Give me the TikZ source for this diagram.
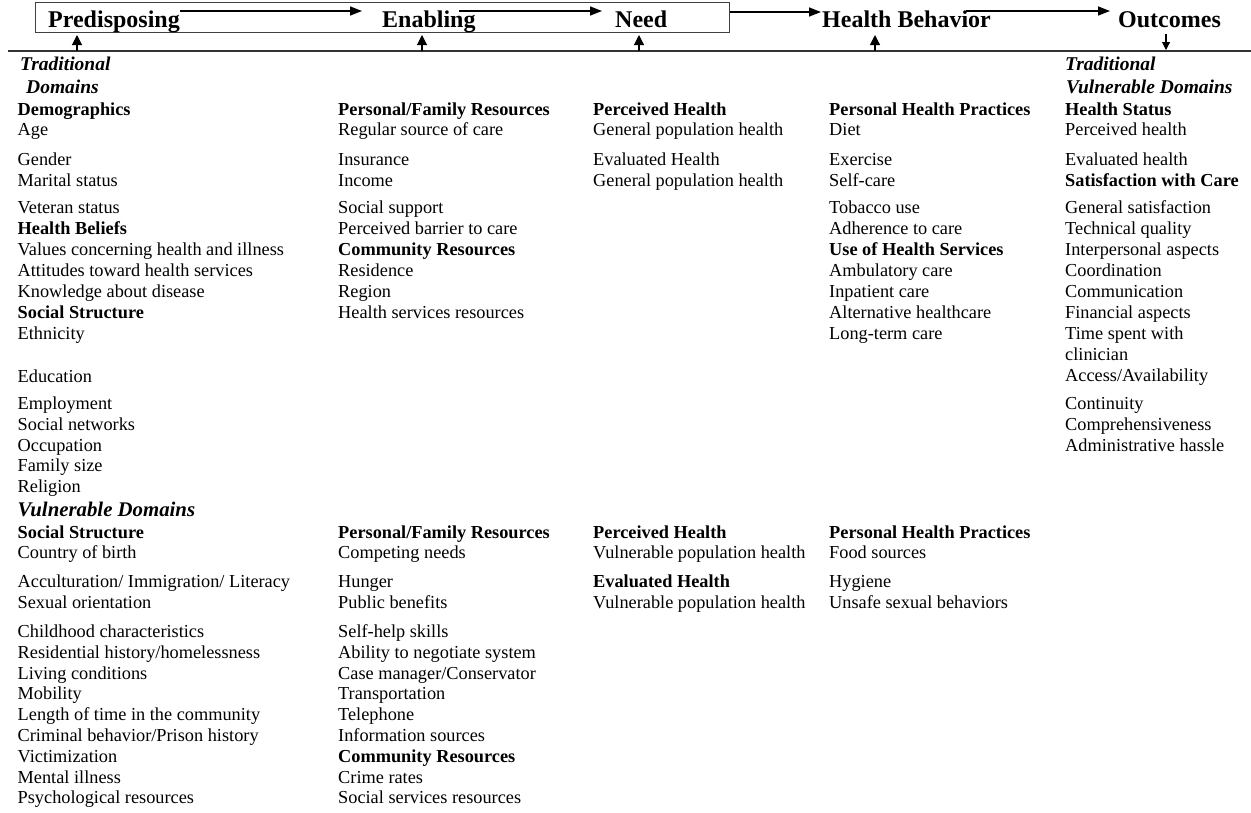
\documentclass[tikz,border=0pt]{standalone}
\usepackage{fontspec}
\setmainfont{Liberation Serif}
\usetikzlibrary{arrows.meta}
\tikzset{
  txt/.style={anchor=base west, inner sep=0pt, font=\fontsize{18.3}{21}\selectfont},
  hdr/.style={anchor=base west, inner sep=0pt, font=\fontsize{24}{26}\selectfont\bfseries},
  dom/.style={anchor=base west, inner sep=0pt, font=\fontsize{19.5}{22}\selectfont\bfseries\itshape},
  domb/.style={anchor=base west, inner sep=0pt, font=\fontsize{20.8}{23}\selectfont\bfseries\itshape},
  harr/.style={-{Triangle[length=12pt,width=9pt]}, line width=1.5pt},
  varr/.style={-{Triangle[length=10pt,width=10pt]}, line width=1.1pt},
  darr/.style={-{Triangle[length=8pt,width=8pt]}, line width=1.1pt},
  rule/.style={line width=1.3pt, black!80},
  framebox/.style={draw=black!75, line width=1pt, inner sep=0pt, anchor=north west}
}
\begin{document}
\begin{tikzpicture}[x=1pt,y=-1pt]
\useasboundingbox (0,0) rectangle (1251,812);
% header box and rule
\node[framebox, minimum width=694pt, minimum height=30pt] (box) at (35,2) {};
\coordinate (rw) at (8,51);
\coordinate (re) at (1251,51);
\draw[rule] (rw) -- (re);
% header labels
\node[hdr] (pre) at (48,27) {Predisposing};
\node[hdr] (ena) at (382,27) {Enabling};
\node[hdr] (need) at (615,27) {Need};
\node[hdr] (hb) at (822,27) {Health Behavior};
\node[hdr] (out) at (1118,27) {Outcomes};
% horizontal arrows
\draw[harr] ([yshift=16pt]pre.base east) -- ([xshift=-20pt,yshift=16pt]ena.base west);
\draw[harr] ([xshift=-17pt,yshift=16pt]ena.base east) -- ([xshift=-13pt,yshift=16pt]need.base west);
\draw[harr] ([yshift=-10pt]box.north east) -- ([xshift=-1pt,yshift=15pt]hb.base west);
\draw[harr] ([xshift=-25pt,yshift=16pt]hb.base east) -- ([xshift=-8pt,yshift=16pt]out.base west);
% vertical arrows
\coordinate (u1a) at (77,51);   \coordinate (u1b) at (77,35);
\coordinate (u2a) at (422,51);  \coordinate (u2b) at (422,35);
\coordinate (u3a) at (639,51);  \coordinate (u3b) at (639,35);
\coordinate (u4a) at (875,51);  \coordinate (u4b) at (875,35);
\coordinate (d5a) at (1166,34); \coordinate (d5b) at (1166,50);
\draw[varr] (u1a) -- (u1b);
\draw[varr] (u2a) -- (u2b);
\draw[varr] (u3a) -- (u3b);
\draw[varr] (u4a) -- (u4b);
\draw[darr] (d5a) -- (d5b);
% domain titles
\node[dom] (td1) at (20,70) {Traditional};
\node[dom] (td2) at (26,93) {Domains};
\node[dom] (tv1) at (1065,70) {Traditional};
\node[dom] (tv2) at (1066,93) {Vulnerable Domains};
\node[domb] (vd) at (17.5,516) {Vulnerable Domains};
% column 1 upper
\foreach \y/\t [count=\i] in {115/{\textbf{Demographics}}, 135.7/{Age}, 165/{Gender}, 186/{Marital status}, 213/{Veteran status}, 234/{\textbf{Health Beliefs}}, 255/{Values concerning health and illness}, 276/{Attitudes toward health services}, 297/{Knowledge about disease}, 318/{\textbf{Social Structure}}, 339/{Ethnicity}, 382/{Education}, 409/{Employment}, 430/{Social networks}, 451/{Occupation}, 471/{Family size}, 492/{Religion}}
  \node[txt] (a\i) at (17.5,\y) {\t};
% column 2 upper
\foreach \y/\t [count=\i] in {115/{\textbf{Personal/Family Resources}}, 135.7/{Regular source of care}, 165/{Insurance}, 186/{Income}, 213/{Social support}, 234/{Perceived barrier to care}, 255/{\textbf{Community Resources}}, 276/{Residence}, 297/{Region}, 318/{Health services resources}}
  \node[txt] (b\i) at (338,\y) {\t};
% column 3 upper
\foreach \y/\t [count=\i] in {115/{\textbf{Perceived Health}}, 135.7/{General population health}, 165/{Evaluated Health}, 186/{General population health}}
  \node[txt] (c\i) at (593,\y) {\t};
% column 4 upper
\foreach \y/\t [count=\i] in {115/{\textbf{Personal Health Practices}}, 135.7/{Diet}, 165/{Exercise}, 186/{Self-care}, 213/{Tobacco use}, 234/{Adherence to care}, 255/{\textbf{Use of Health Services}}, 276/{Ambulatory care}, 297/{Inpatient care}, 318/{Alternative healthcare}, 339/{Long-term care}}
  \node[txt] (d\i) at (829,\y) {\t};
% column 5
\foreach \y/\t [count=\i] in {115/{\textbf{Health Status}}, 135.7/{Perceived health}, 165/{Evaluated health}, 186/{\textbf{Satisfaction with Care}}, 213/{General satisfaction}, 234/{Technical quality}, 255/{Interpersonal aspects}, 276/{Coordination}, 297/{Communication}, 318/{Financial aspects}, 339/{Time spent with}, 360/{clinician}, 381/{Access/Availability}, 409/{Continuity}, 430/{Comprehensiveness}, 451/{Administrative hassle}}
  \node[txt] (e\i) at (1065,\y) {\t};
% column 1 lower
\foreach \y/\t [count=\i] in {538/{\textbf{Social Structure}}, 558/{Country of birth}, 587/{Acculturation/ Immigration/ Literacy}, 608/{Sexual orientation}, 637/{Childhood characteristics}, 658/{Residential history/homelessness}, 679/{Living conditions}, 699/{Mobility}, 720/{Length of time in the community}, 741/{Criminal behavior/Prison history}, 762/{Victimization}, 783/{Mental illness}, 803/{Psychological resources}}
  \node[txt] (f\i) at (17.5,\y) {\t};
% column 2 lower
\foreach \y/\t [count=\i] in {538/{\textbf{Personal/Family Resources}}, 558/{Competing needs}, 587/{Hunger}, 608/{Public benefits}, 637/{Self-help skills}, 658/{Ability to negotiate system}, 679/{Case manager/Conservator}, 699/{Transportation}, 720/{Telephone}, 741/{Information sources}, 762/{\textbf{Community Resources}}, 783/{Crime rates}, 803/{Social services resources}}
  \node[txt] (g\i) at (338,\y) {\t};
% column 3 lower
\foreach \y/\t [count=\i] in {538/{\textbf{Perceived Health}}, 558/{Vulnerable population health}, 587/{\textbf{Evaluated Health}}, 608/{Vulnerable population health}}
  \node[txt] (h\i) at (593,\y) {\t};
% column 4 lower
\foreach \y/\t [count=\i] in {538/{\textbf{Personal Health Practices}}, 558/{Food sources}, 587/{Hygiene}, 608/{Unsafe sexual behaviors}}
  \node[txt] (k\i) at (829,\y) {\t};
\end{tikzpicture}
\end{document}
